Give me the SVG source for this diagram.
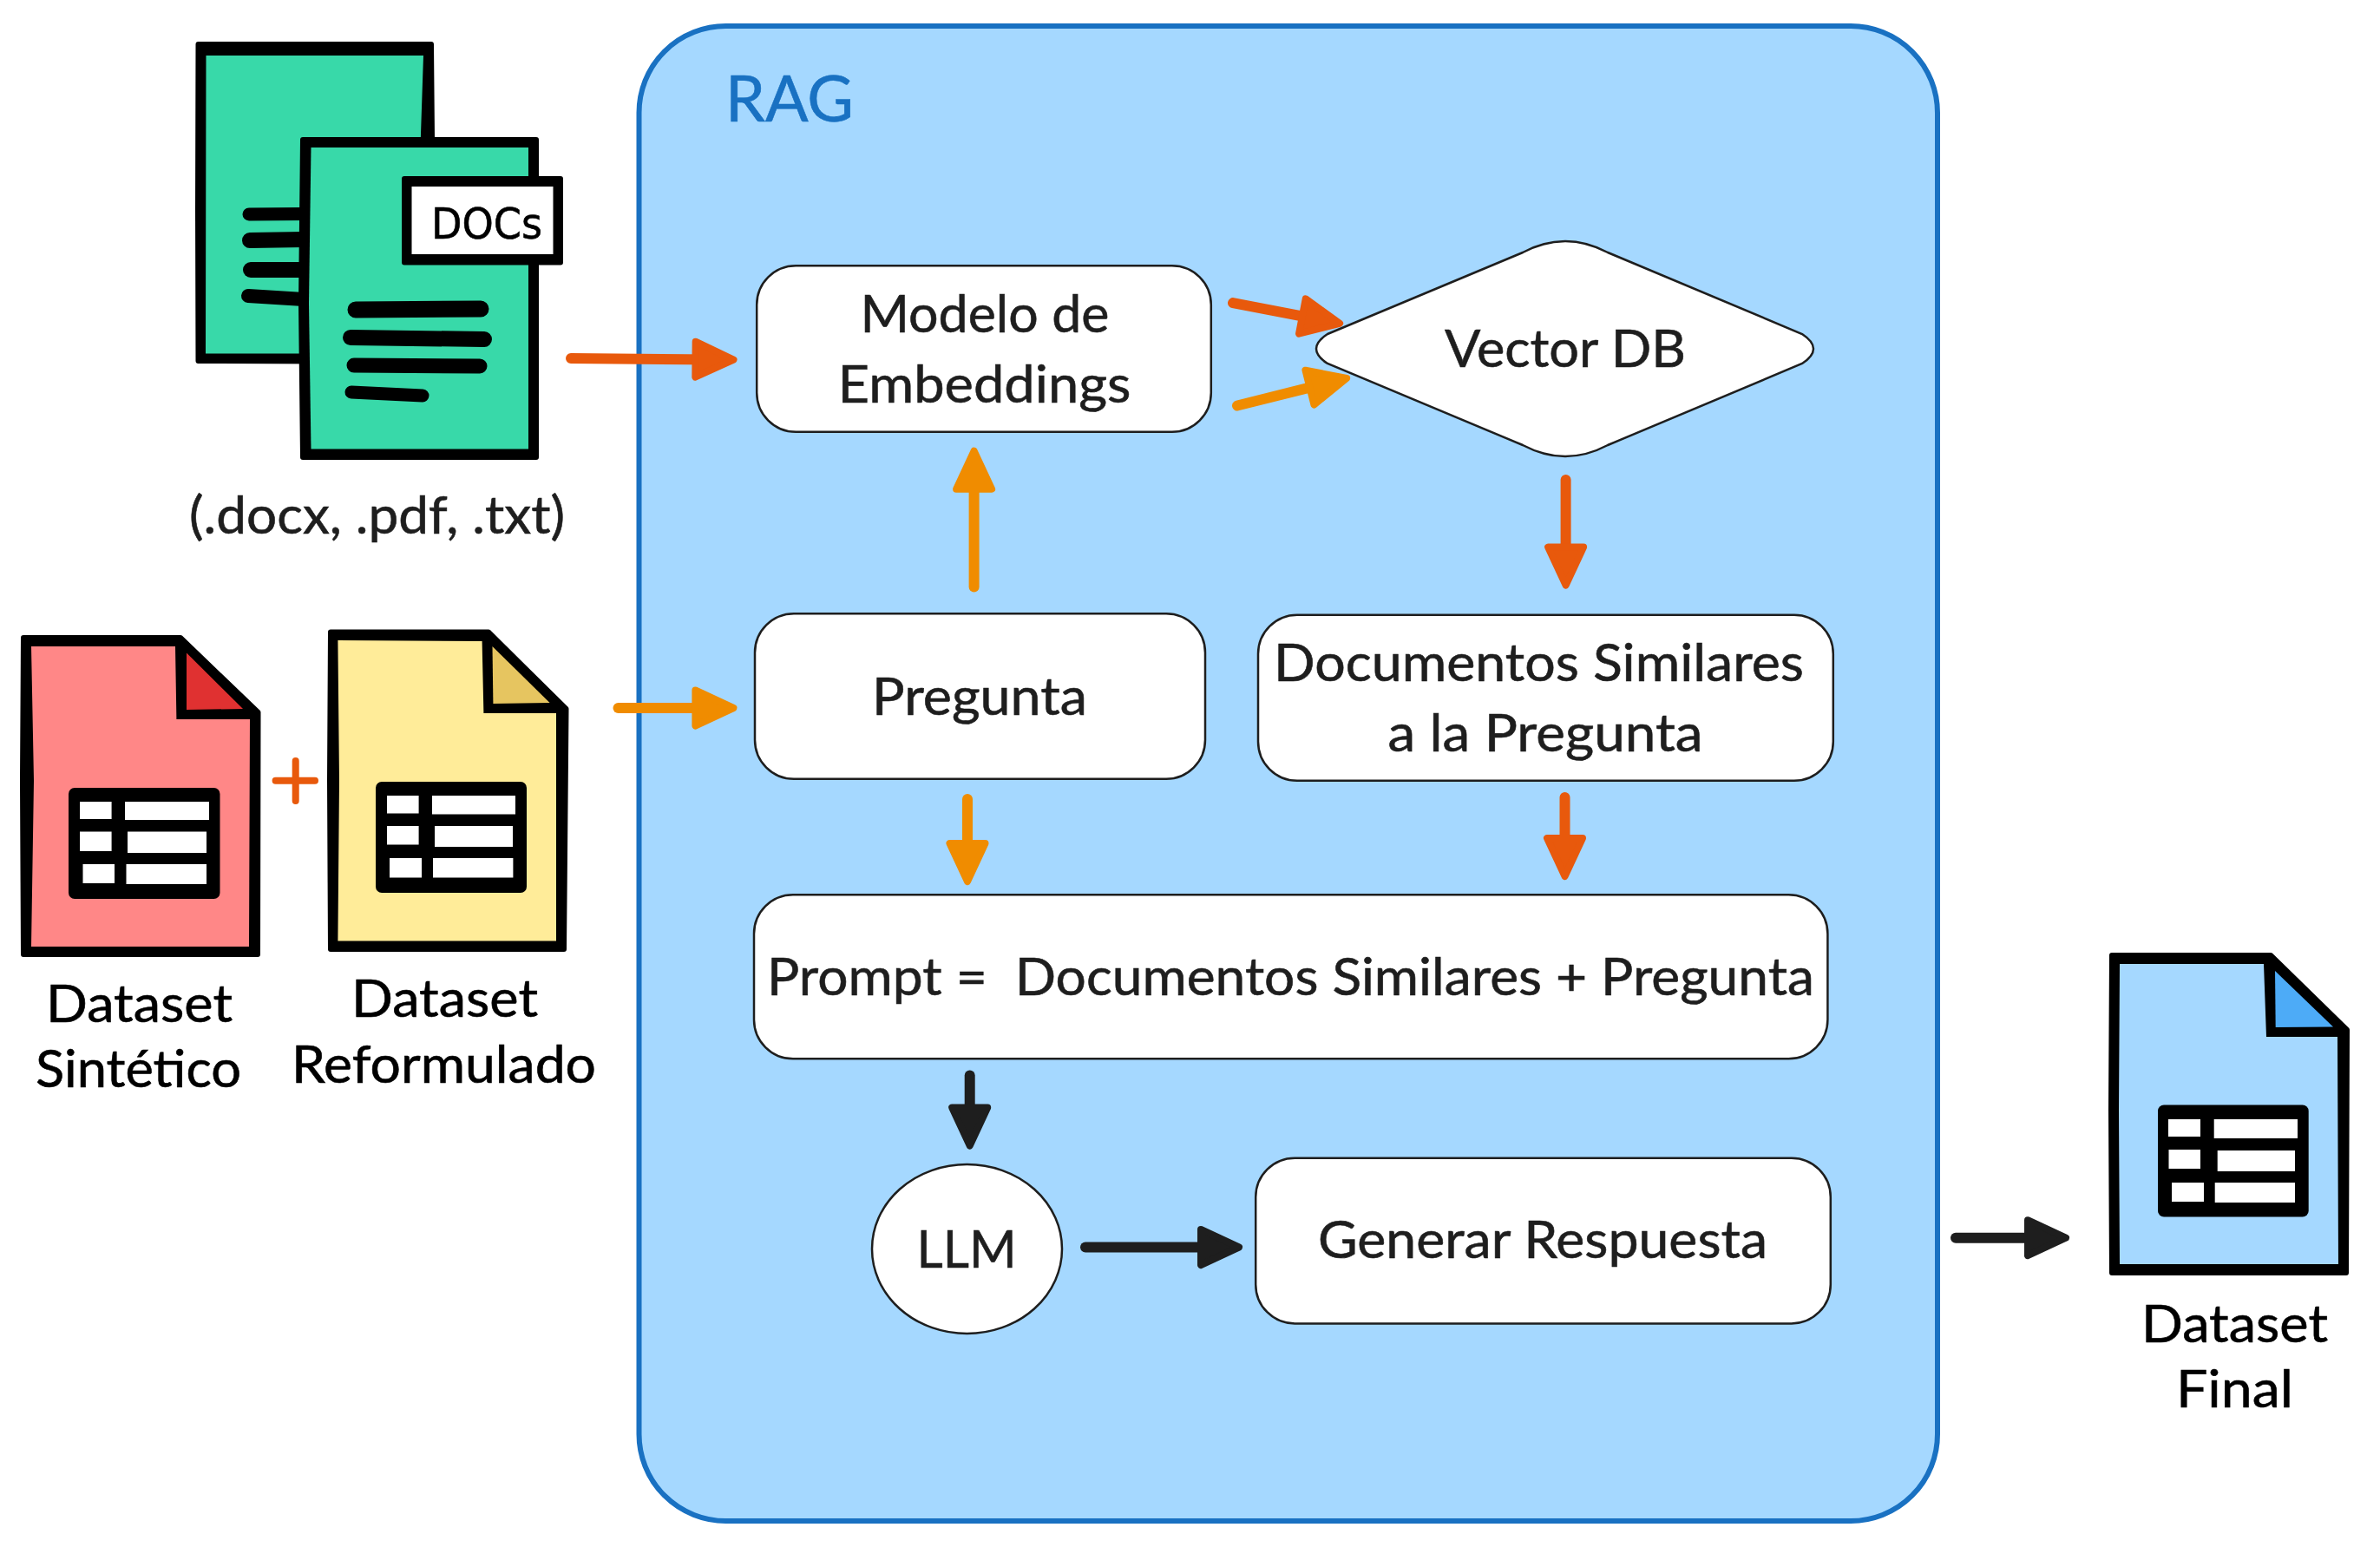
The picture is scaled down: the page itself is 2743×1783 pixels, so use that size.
<svg xmlns="http://www.w3.org/2000/svg" width="2743" height="1783" viewBox="0 0 2743 1783">
<style>
text{font-family:Lato,"Noto Sans",sans-serif;font-size:60px;fill:#1e1e1e;stroke:#1e1e1e;stroke-width:.6;white-space:pre}
.k{fill:#000;stroke:#000}
.blk{fill:#000}
.ink{fill:#000;stroke:#000;stroke-width:6;stroke-linejoin:round}
.cell{fill:#fff}
.bar{fill:none;stroke:#000;stroke-linecap:round}
.box{fill:#fff;stroke:#1e1e1e;stroke-width:2.5}
.a{fill:none;stroke-width:12;stroke-linecap:round}
.o{stroke:#e8590c}.m{stroke:#f08c00}.d{stroke:#1e1e1e}
</style>
<defs>
<marker id="ho" markerUnits="userSpaceOnUse" markerWidth="60" markerHeight="60" viewBox="0 0 60 60" refX="28" refY="30" orient="auto"><polygon points="6,9.5 50,30 6,50.5" fill="#e8590c" stroke="#e8590c" stroke-width="8" stroke-linejoin="round"/></marker>
<marker id="hm" markerUnits="userSpaceOnUse" markerWidth="60" markerHeight="60" viewBox="0 0 60 60" refX="28" refY="30" orient="auto"><polygon points="6,9.5 50,30 6,50.5" fill="#f08c00" stroke="#f08c00" stroke-width="8" stroke-linejoin="round"/></marker>
<marker id="hd" markerUnits="userSpaceOnUse" markerWidth="60" markerHeight="60" viewBox="0 0 60 60" refX="28" refY="30" orient="auto"><polygon points="6,9.5 50,30 6,50.5" fill="#1e1e1e" stroke="#1e1e1e" stroke-width="8" stroke-linejoin="round"/></marker>
</defs>

<g id="rag">
<rect x="736.5" y="30" width="1496.5" height="1723" rx="100" fill="#a5d8ff" stroke="#1971c2" stroke-width="6"/>
<text x="836" y="140" textLength="148" lengthAdjust="spacingAndGlyphs" style="font-size:74px;fill:#1971c2;stroke:#1971c2">RAG</text>
</g>

<g id="docs">
<polygon class="ink" points="228.5,51 497,51 498,160 498,300 498,417 228.5,416 228,240"/>
<polygon points="237.5,64 488,64 483.5,200 483,407.5 237,407.5" fill="#38d9a9"/>
<path class="bar" stroke-width="15" d="M287,247 L350,246.5"/>
<path class="bar" stroke-width="18" d="M288,277 L350,276"/>
<path class="bar" stroke-width="18" d="M289,311 L350,311"/>
<path class="bar" stroke-width="16" d="M286,341 L350,345"/>
<polygon class="ink" points="349,161 618,161 618,527 349,527 347,350"/>
<polygon points="358.5,170 609,170 609,517.5 358.5,517.5 356,350" fill="#38d9a9"/>
<path class="bar" stroke-width="19" d="M410,357 L554,356"/>
<path class="bar" stroke-width="18" d="M404,389 L558,391"/>
<path class="bar" stroke-width="17" d="M408,421 L553,422"/>
<path class="bar" stroke-width="15" d="M405,452 L487,456"/>
<polygon class="ink" points="466,206 646,206 646,302.5 466,302.5"/>
<polygon class="cell" points="474.5,215 637.5,215 637.5,293 474.5,293"/>
<text x="497" y="275" textLength="128" lengthAdjust="spacingAndGlyphs" class="k" style="font-family:'DejaVu Sans',sans-serif;font-size:50px">DOCs</text>
<text x="218" y="614.5" textLength="433" lengthAdjust="spacingAndGlyphs">(.docx, .pdf, .txt)</text>
</g>

<g id="dataset-sintetico">
<polygon class="ink" points="27,735 208,735 297.5,821 297,1100 27,1100 26,900"/>
<polygon points="36,745 202,745 203.4,829 288,829 287,1091 36,1091 39,900" fill="#ff8787"/>
<polygon points="215,752.5 280,817 215,818" fill="#e03131"/>
<rect x="79" y="908" width="174.5" height="128" rx="7" class="blk"/>
<polygon class="cell" points="92,924 128.6,924 128.6,944 92,944"/>
<polygon class="cell" points="144,924 241,924 241,945 144,945"/>
<polygon class="cell" points="92,958.6 128.6,958.6 128.6,981 92,981"/>
<polygon class="cell" points="147,958.6 238,958.6 238,983 147,983"/>
<polygon class="cell" points="95.5,996 132,996 132,1018 95.5,1018"/>
<polygon class="cell" points="145.5,996 238,996 238,1019 145.5,1019"/>
<text class="k" x="53" y="1177.5" textLength="215" lengthAdjust="spacingAndGlyphs">Dataset</text>
<text class="k" x="41" y="1252.5" textLength="237" lengthAdjust="spacingAndGlyphs">Sintético</text>
</g>

<g id="plus">
<path d="M317.6,899.8 H363 M340.7,877 V923" fill="none" stroke="#e8590c" stroke-width="8" stroke-linecap="round"/>
</g>

<g id="dataset-reformulado">
<polygon class="ink" points="381,728.5 563,728.5 652.5,817 650,1094 381,1094 380,900"/>
<polygon points="389.4,738 555.6,739 557.4,822 641,822 641,1084.4 389.4,1084.4 391,900" fill="#ffec99"/>
<polygon points="567.5,745 633.6,810 568.4,811" fill="#e6c560"/>
<rect x="433" y="901" width="174" height="128" rx="7" class="blk"/>
<polygon class="cell" points="446,917 482.6,917 482.6,937.5 446,937.5"/>
<polygon class="cell" points="498,917 594,917 594,938.5 498,938.5"/>
<polygon class="cell" points="446,952 482.6,952 482.6,973.4 446,973.4"/>
<polygon class="cell" points="501,952 591,952 591,976 501,976"/>
<polygon class="cell" points="449,989 486,989 486,1011.5 449,1011.5"/>
<polygon class="cell" points="499,989 591.4,989 591.4,1011.5 499,1011.5"/>
<text class="k" x="405" y="1172" textLength="215" lengthAdjust="spacingAndGlyphs">Dataset</text>
<text class="k" x="336" y="1248" textLength="351" lengthAdjust="spacingAndGlyphs">Reformulado</text>
</g>

<g id="dataset-final">
<polygon class="ink" points="2434,1101 2617,1101 2705,1187 2704,1467 2434,1467 2433,1280"/>
<polygon points="2443,1111 2609,1111 2612,1195 2694,1195 2695,1457 2443,1457 2442,1280" fill="#a5d8ff"/>
<polygon points="2622,1119 2689,1183.6 2622.7,1184" fill="#4dabf7"/>
<rect x="2487" y="1273.5" width="173.7" height="129" rx="7" class="blk"/>
<polygon class="cell" points="2499,1290 2536,1290 2536,1310 2499,1310"/>
<polygon class="cell" points="2551.7,1290 2648,1290 2648,1312 2551.7,1312"/>
<polygon class="cell" points="2499.5,1325 2536,1325 2536,1347 2499.5,1347"/>
<polygon class="cell" points="2555.7,1326 2645,1326 2645,1350 2555.7,1350"/>
<polygon class="cell" points="2503,1363 2540,1363 2540,1385 2503,1385"/>
<polygon class="cell" points="2552.7,1363 2645,1363 2645,1386 2552.7,1386"/>
<text class="k" x="2468" y="1547" textLength="215" lengthAdjust="spacingAndGlyphs">Dataset</text>
<text class="k" x="2508" y="1622" textLength="135" lengthAdjust="spacingAndGlyphs">Final</text>
</g>

<g id="modelo">
<rect class="box" x="872.2" y="306.2" width="523.6" height="191.6" rx="45"/>
<text x="991.5" y="382.5" textLength="287" lengthAdjust="spacingAndGlyphs">Modelo de</text>
<text x="965.5" y="463.5" textLength="338" lengthAdjust="spacingAndGlyphs">Embeddings</text>
</g>
<g id="vector-db">
<path class="box" d="M1530,385 L1755,291 Q1804,265 1853,291 L2077,385 Q2103,402 2077,419 L1853,513 Q1804,539 1755,513 L1530,419 Q1504,402 1530,385Z"/>
<text x="1665" y="422.5" textLength="278" lengthAdjust="spacingAndGlyphs">Vector DB</text>
</g>
<g id="pregunta">
<rect class="box" x="870" y="707.2" width="519" height="190.6" rx="45"/>
<text x="1005" y="824" textLength="248" lengthAdjust="spacingAndGlyphs">Pregunta</text>
</g>
<g id="documentos">
<rect class="box" x="1450" y="708.8" width="662.8" height="191" rx="45"/>
<text x="1468" y="784.5" textLength="611" lengthAdjust="spacingAndGlyphs">Documentos Similares</text>
<text x="1599.5" y="865.5" textLength="363" lengthAdjust="spacingAndGlyphs">a la Pregunta</text>
</g>
<g id="prompt">
<rect class="box" x="869" y="1031.2" width="1237.4" height="189" rx="45"/>
<text x="884" y="1146.5" textLength="1207" lengthAdjust="spacingAndGlyphs">Prompt =  Documentos Similares + Pregunta</text>
</g>
<g id="llm">
<ellipse class="box" cx="1114.5" cy="1439.5" rx="109.5" ry="97.5"/>
<text x="1056.5" y="1461" textLength="115" lengthAdjust="spacingAndGlyphs">LLM</text>
</g>
<g id="generar">
<rect class="box" x="1447.2" y="1334.8" width="662.6" height="190.6" rx="45"/>
<text x="1519" y="1450" textLength="518" lengthAdjust="spacingAndGlyphs">Generar Respuesta</text>
</g>

<g id="connectors">
<path class="a o" marker-end="url(#ho)" d="M658,413 L823.5,414.4"/>
<path class="a o" marker-end="url(#ho)" d="M1421,349.1 L1522.5,368.6"/>
<path class="a m" marker-end="url(#hm)" d="M1426,467.5 L1530.8,441.3"/>
<path class="a o" marker-end="url(#ho)" d="M1804.6,553 L1804.6,652.6"/>
<path class="a o" marker-end="url(#ho)" d="M1803.5,919 L1803.5,988"/>
<path class="a m" marker-end="url(#hm)" d="M1122.6,676.6 L1122.6,541.7"/>
<path class="a m" marker-end="url(#hm)" d="M712.5,816 L823.4,816"/>
<path class="a m" marker-end="url(#hm)" d="M1115,921 L1115,994"/>
<path class="a d" marker-end="url(#hd)" d="M1117.7,1239.5 L1117.7,1298.5"/>
<path class="a d" marker-end="url(#hd)" d="M1251,1437.5 L1406,1437.5"/>
<path class="a d" marker-end="url(#hd)" d="M2254,1426.7 L2359,1426.7"/>
</g>
</svg>
